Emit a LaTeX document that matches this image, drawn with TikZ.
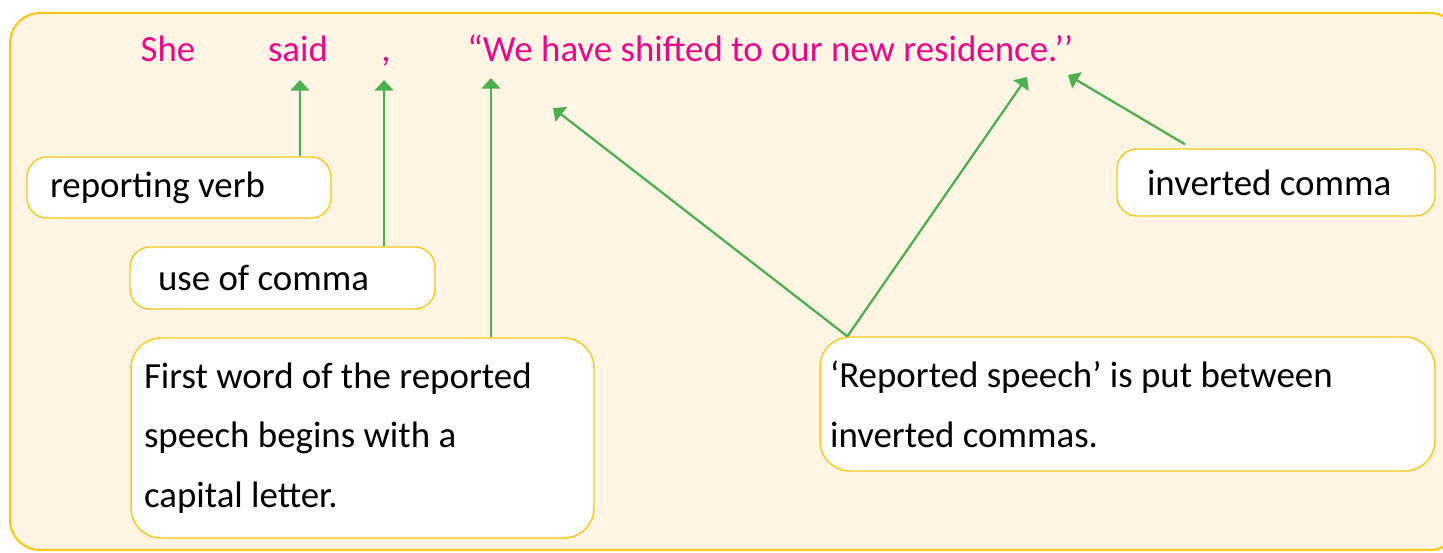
\documentclass[tikz,border=0pt]{standalone}
\usepackage{fontspec}
\setmainfont{Carlito}
\usetikzlibrary{arrows.meta}

\definecolor{speechpink}{HTML}{E8088A}
\definecolor{boxgold}{HTML}{FFC61A}
\definecolor{cream}{HTML}{FFF5E4}
\definecolor{pointgreen}{HTML}{4CAF50}

\begin{document}
\begin{tikzpicture}[x=0.02cm,y=-0.02cm,
  note/.style={draw=boxgold, fill=white, line width=0.8pt, rounded corners=0.4cm,
    align=flush left, inner ysep=0pt, font=\fontsize{21}{34}\selectfont},
  word/.style={text=speechpink, inner sep=0pt, anchor=base, font=\fontsize{21}{25}\selectfont},
  pointer/.style={pointgreen, line width=1.3pt, -{Triangle[length=6pt,width=10.5pt]}}]
\useasboundingbox (0,0) rectangle (1443,552);
% Frame
\draw[draw=boxgold, fill=cream, line width=1.2pt, rounded corners=0.6cm] (10,13) rectangle (1460,550);
% Sentence
\node[word] (she) at (168,61) {She};
\node[word] (said) at (298,61) {said};
\node[word] (comma) at (386,61) {,};
\node[word, anchor=base west] (quote) at (467,61) {“We have shifted to our new residence.’’};
% Tips
\coordinate (saidtip) at (300,80);
\coordinate (commatip) at (384,80);
\coordinate (firsttip) at (491,78);
\coordinate (wetip) at (553,108);
\coordinate (endtip) at (1027,77);
\coordinate (invtip) at (1068,75);
% Notes
\node[note, text width=5.16cm, inner xsep=0.46cm, minimum height=1.22cm] (verb) at (179,187.5) {reporting verb};
\node[note, text width=4.98cm, inner xsep=0.56cm, minimum height=1.24cm] (use) at (282.5,278) {use of comma};
\node[note, rounded corners=0.6cm, text width=8.74cm, inner xsep=0.26cm, minimum height=4cm] (first) at (362.5,438)
  {First word of the reported\\speech begins with a\\capital letter.\\[-0.16cm]};
\node[note, text width=5.16cm, inner xsep=0.6cm, minimum height=1.34cm] (inv) at (1276,182.5) {inverted comma};
\node[note, rounded corners=0.6cm, text width=11.9cm, inner xsep=0.2cm, minimum height=2.68cm] (rep) at (1127.5,404)
  {‘Reported speech’ is put between\\inverted commas.};
% Pointers
\draw[pointer] (verb.north -| saidtip) -- (saidtip);
\draw[pointer] (use.north -| commatip) -- (commatip);
\draw[pointer] (first.north -| firsttip) -- (firsttip);
\draw[pointer] ([xshift=0.56cm]rep.north west) -- (wetip);
\draw[pointer] ([xshift=0.56cm]rep.north west) -- (endtip);
\draw[pointer] ([xshift=-1.82cm,yshift=0.08cm]inv.north) -- (invtip);
\end{tikzpicture}
\end{document}
